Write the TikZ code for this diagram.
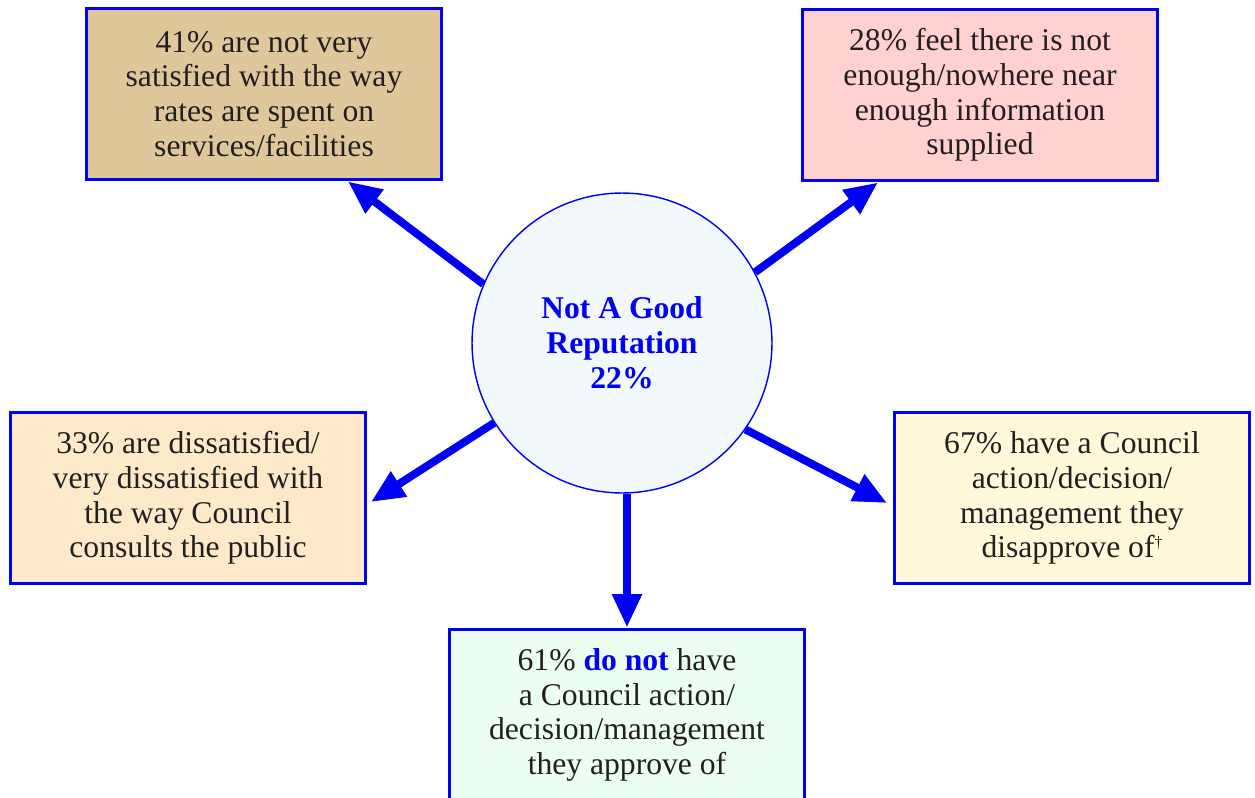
\documentclass[tikz,border=0pt]{standalone}
\usepackage{fontspec}
\setmainfont{Liberation Serif}
\usetikzlibrary{arrows.meta,calc}
\definecolor{repblue}{HTML}{0000F5}
\definecolor{txtgray}{HTML}{231F20}
\definecolor{hubfill}{HTML}{F3F8FD}
\definecolor{tanfill}{HTML}{DFC79C}
\definecolor{pinkfill}{HTML}{FFD1D1}
\definecolor{peachfill}{HTML}{FFE9CB}
\definecolor{creamfill}{HTML}{FFF8DA}
\definecolor{mintfill}{HTML}{EBFEF1}
\begin{document}
\begin{tikzpicture}[
  x=0.02cm, y=-0.02cm,
  every node/.style={font=\fontsize{18}{19.8}\selectfont, text=txtgray},
  infobox/.style={draw=repblue, line width=1.7pt, minimum width=7.1cm, minimum height=3.44cm, inner sep=0pt, align=center},
  hubnode/.style={circle, draw=repblue, line width=0.8pt, fill=hubfill, minimum size=6cm, inner sep=0pt, align=center, text=repblue, font=\fontsize{18}{19.8}\selectfont\bfseries},
  spoke/.style={-{Triangle[length=19pt,width=16pt]}, line width=4.5pt, draw=repblue}
]
\useasboundingbox (0,0) rectangle (1255,798);

% Outer boxes
\node[infobox, fill=tanfill]   (rates)      at (264,94)   {41\% are not very\\satisfied with the way\\rates are spent on\\services/facilities};
\node[infobox, fill=pinkfill]  (info)       at (980,95)   {28\% feel there is not\\enough/nowhere near\\enough information\\supplied};
\node[infobox, fill=peachfill] (consult)    at (188,498)  {33\% are dissatisfied/\\very dissatisfied with\\the way Council\\consults the public};
\node[infobox, fill=creamfill] (disapprove) at (1072,498) {67\% have a Council\\action/decision/\\management they\\disapprove of\raisebox{0.7ex}{\fontsize{9}{9}\selectfont\dag}};
\node[infobox, fill=mintfill]  (approve)    at (627,715)  {61\% \textcolor{repblue}{\bfseries do not} have\\a Council action/\\decision/management\\they approve of};

% Centre
\node[hubnode] (hub) at (622,343) {Not A Good\\Reputation\\22\%};

% Spokes
\draw[spoke] (hub.157) -- ($(rates.south)+(84,0)$);
\draw[spoke] (hub.28)  -- ($(info.south)+(-102,0)$);
\draw[spoke] (hub.212) -- ($(consult.east)+(4,4)$);
\draw[spoke] (hub.325) -- ($(disapprove.west)+(-6,5)$);
\draw[spoke] (hub.south -| approve.north) -- (approve.north);
\end{tikzpicture}
\end{document}
